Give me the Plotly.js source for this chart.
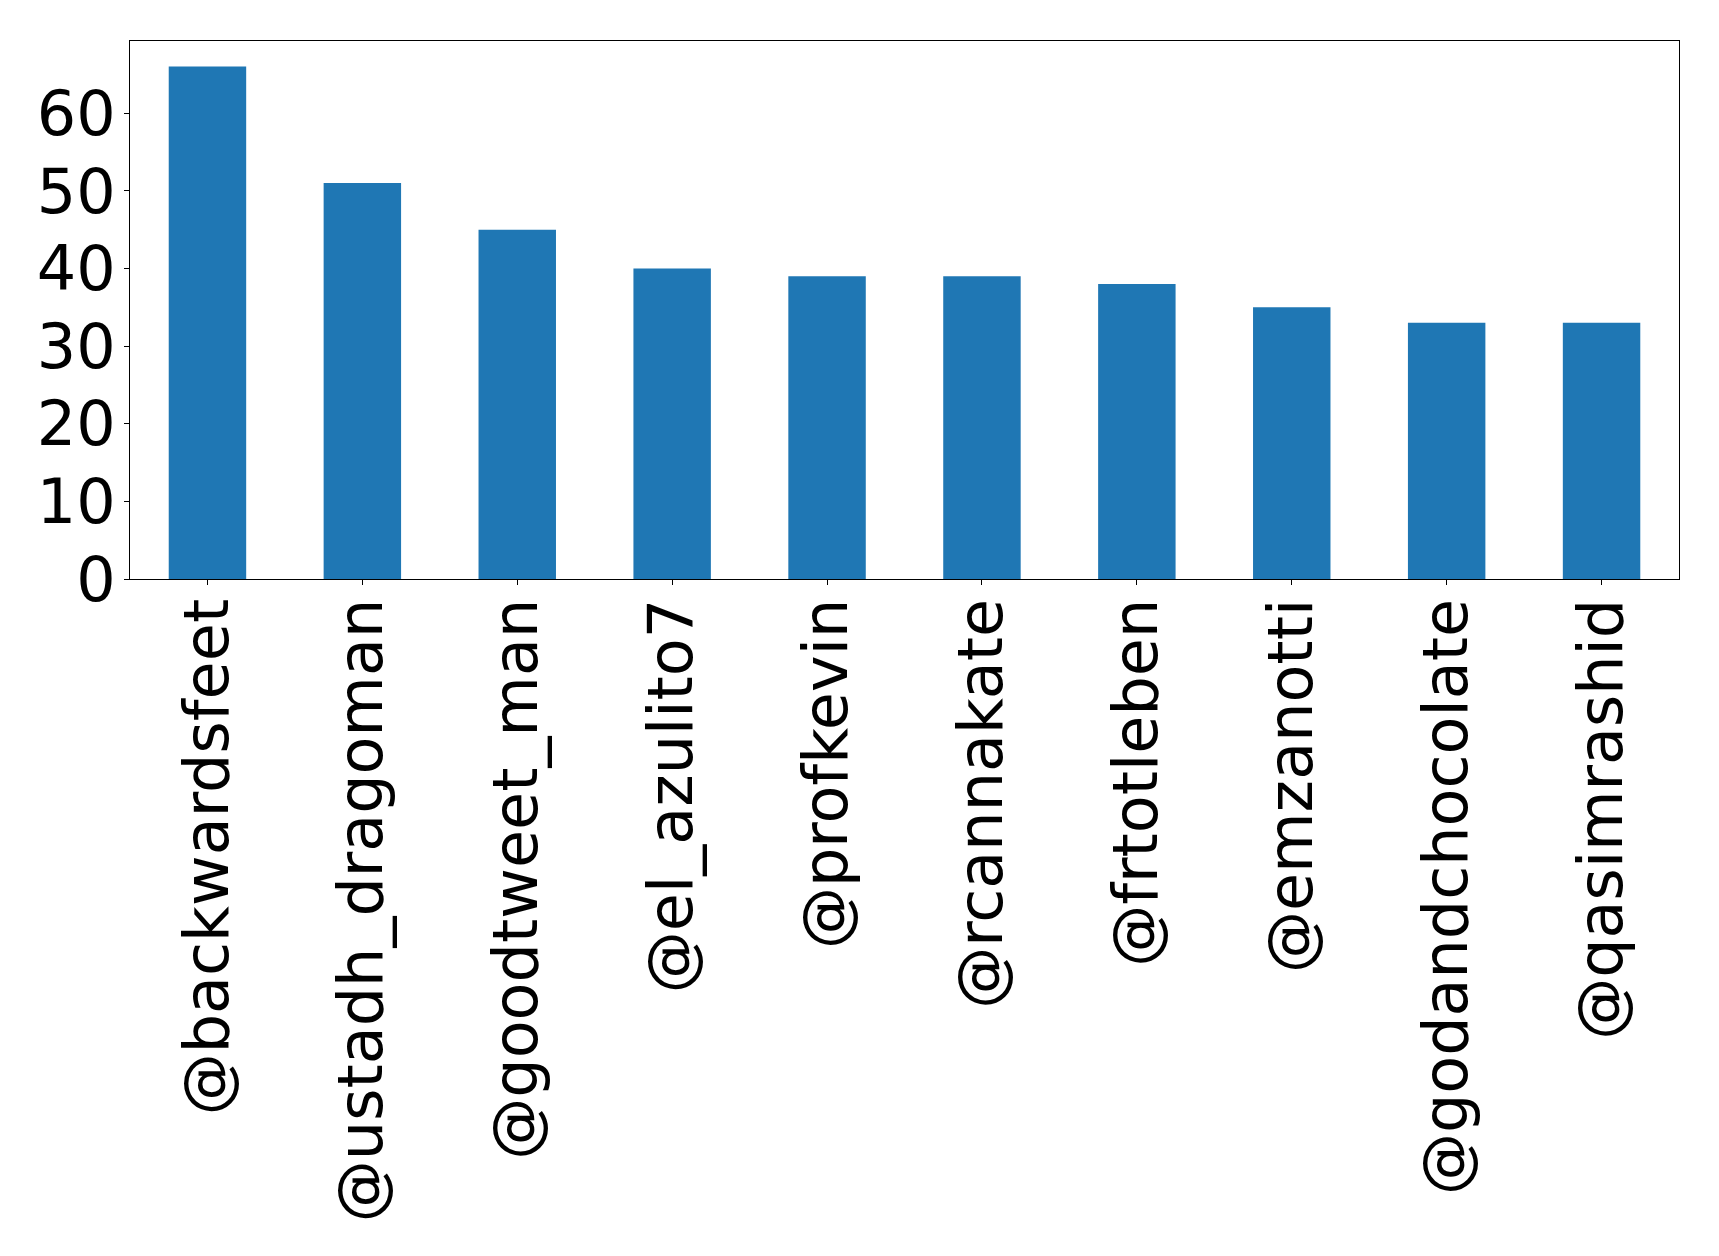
<!DOCTYPE html>
<html>
<head>
<meta charset="utf-8">
<script src="https://cdn.plot.ly/plotly-3.0.1.min.js"></script>
<style>html,body{margin:0;padding:0;background:#fff;}#chart{width:1719px;height:1256px;}</style>
</head>
<body>
<div id="chart"></div>
<script>
const users = ["@backwardsfeet","@ustadh_dragoman","@goodtweet_man","@el_azulito7","@profkevin","@rcannakate","@frtotleben","@emzanotti","@godandchocolate","@qasimrashid"];
const counts = [66, 51, 45, 40, 39, 39, 38, 35, 33, 33];
const yTicks = [0, 10, 20, 30, 40, 50, 60];

const trace = {
  type: "bar",
  x: users,
  y: counts,
  width: 0.5,
  marker: {color: "#1f77b4", line: {width: 0}},
  hoverinfo: "x+y"
};

const layout = {
  width: 1719,
  height: 1256,
  paper_bgcolor: "#fff",
  plot_bgcolor: "#fff",
  margin: {l: 129.5, r: 40, t: 40.5, b: 677, pad: 0},
  showlegend: false,
  bargap: 0.5,
  font: {family: "DejaVu Sans", color: "#000", size: 62},
  xaxis: {
    type: "category",
    range: [-0.5, users.length - 0.5],
    tickangle: -90,
    ticks: "outside",
    ticklen: 5,
    tickwidth: 1,
    tickcolor: "#000",
    ticklabelstandoff: -11,
    showline: true,
    linecolor: "#000",
    linewidth: 1,
    mirror: true,
    showgrid: false,
    zeroline: false,
    tickfont: {family: "DejaVu Sans", size: 62, color: "#000"}
  },
  yaxis: {
    range: [0, 69.3],
    tickmode: "array",
    tickvals: yTicks,
    ticktext: yTicks.map(String),
    ticks: "outside",
    ticklen: 5,
    tickwidth: 1,
    tickcolor: "#000",
    ticklabelstandoff: -4,
    showline: true,
    linecolor: "#000",
    linewidth: 1,
    mirror: true,
    showgrid: false,
    zeroline: false,
    tickfont: {family: "DejaVu Sans", size: 62, color: "#000"}
  }
};

Plotly.newPlot("chart", [trace], layout, {displayModeBar: false, staticPlot: true});
</script>
</body>
</html>
